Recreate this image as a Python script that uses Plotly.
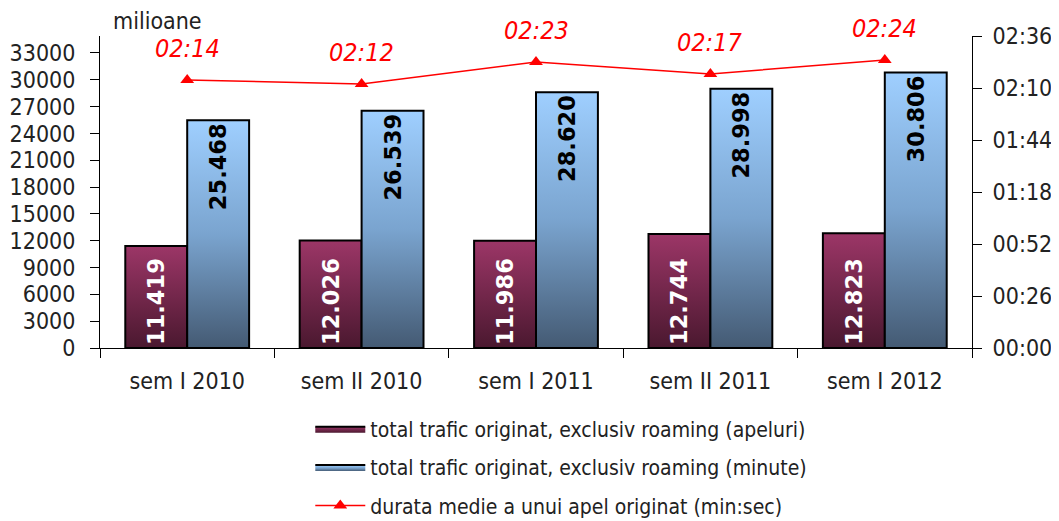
import plotly.graph_objects as go

# categories and values
categories = ["sem I 2010", "sem II 2010", "sem I 2011", "sem II 2011", "sem I 2012"]
apeluri = [11419, 12026, 11986, 12744, 12823]          # milioane
minute = [25468, 26539, 28620, 28998, 30806]           # milioane
durata_sec = [134, 132, 143, 137, 144]                 # seconds
durata_labels = ["02:14", "02:12", "02:23", "02:17", "02:24"]

y_ticks = [0, 3000, 6000, 9000, 12000, 15000, 18000, 21000, 24000, 27000, 30000, 33000]
y2_ticks = [0, 26, 52, 78, 104, 130, 156]
y2_labels = ["00:00", "00:26", "00:52", "01:18", "01:44", "02:10", "02:36"]

name_apeluri = "total trafic originat, exclusiv roaming (apeluri)"
name_minute = "total trafic originat, exclusiv roaming (minute)"
name_durata = "durata medie a unui apel originat (min:sec)"

FONT = "DejaVu Sans Condensed, DejaVu Sans, sans-serif"
BAR_W = 0.355
Y_MAX = 34900

purple_scale = [[0, "#4a182f"], [1, "#9c3667"]]
blue_scale = [[0, "#445a73"], [0.5, "#7aa4cf"], [1, "#9fcfff"]]

pos = list(range(len(categories)))
fig = go.Figure()

# gradient bars drawn as filled shapes (plotly bars have no gradient fill)
for series, name, scale, off, grp in [
    (apeluri, name_apeluri, purple_scale, -BAR_W, "a"),
    (minute, name_minute, blue_scale, 0.0, "b"),
]:
    for i, v in zip(pos, series):
        x0, x1 = i + off, i + off + BAR_W
        fig.add_trace(go.Scatter(
            x=[x0, x0, x1, x1, x0], y=[0, v, v, 0, 0],
            mode="lines", fill="toself",
            fillgradient=dict(type="vertical", colorscale=scale),
            line=dict(color="black", width=2),
            name=name, legendgroup=grp, showlegend=(i == 0),
            hoverinfo="skip",
        ))

# transparent bars on top only for the value labels
fig.add_trace(go.Bar(
    x=pos, y=apeluri, width=BAR_W, offset=-BAR_W, yaxis="y3",
    marker=dict(color="rgba(0,0,0,0)", line=dict(width=0)),
    texttemplate="%{y:,}", textposition="inside", insidetextanchor="start",
    textangle=-90, constraintext="none",
    textfont=dict(family="DejaVu Sans", size=22.5, color="white", weight="bold"),
    showlegend=False,
))
fig.add_trace(go.Bar(
    x=pos, y=minute, width=BAR_W, offset=0, yaxis="y3",
    marker=dict(color="rgba(0,0,0,0)", line=dict(width=0)),
    texttemplate="%{y:,}", textposition="inside", insidetextanchor="end",
    textangle=-90, constraintext="none",
    textfont=dict(family="DejaVu Sans", size=22.5, color="black", weight="bold"),
    showlegend=False,
))

fig.add_trace(go.Scatter(
    x=pos, y=durata_sec, yaxis="y2", mode="lines+markers",
    line=dict(color="#ff0000", width=1.5),
    marker=dict(symbol="triangle-up", size=12, color="#ff0000"),
    name=name_durata, legendgroup="c",
))

for i, sec, lab in zip(pos, durata_sec, durata_labels):
    fig.add_annotation(x=i, y=sec, yref="y2", text=lab, showarrow=False,
                       yshift=32, font=dict(family=FONT, size=25, color="#ff0000",
                                            style="italic"))

fig.add_annotation(x=0.013, y=1.048, xref="paper", yref="paper", text="milioane",
                   showarrow=False, xanchor="left", yanchor="middle",
                   font=dict(family=FONT, size=23, color="#222222"))

# page body adds an 8px offset, so the figure is 8px smaller than the window
fig.update_layout(
    width=1051, height=513,
    margin=dict(l=92, r=87, t=28, b=173, autoexpand=False),
    paper_bgcolor="white", plot_bgcolor="white",
    font=dict(family=FONT, size=23, color="#222222"),
    separators=",.",
    barmode="overlay",
    xaxis=dict(range=[-0.5, 4.5], tickvals=pos, ticktext=categories,
               ticks="", ticklabelstandoff=12, showline=True, linecolor="black",
               linewidth=1, showgrid=False, zeroline=False, automargin=False,
               minor=dict(tickmode="linear", tick0=-0.5, dtick=1, ticks="outside",
                          ticklen=9, tickcolor="black", showgrid=False)),
    yaxis=dict(range=[0, Y_MAX], tickvals=y_ticks, ticktext=[str(v) for v in y_ticks],
               ticks="outside", ticklen=9, automargin=False,
               tickcolor="black", showline=True, linecolor="black", linewidth=1,
               showgrid=False, zeroline=False, ticklabelstandoff=10),
    yaxis2=dict(range=[0, 156], overlaying="y", side="right", tickvals=y2_ticks,
                ticktext=y2_labels, ticks="outside", ticklen=9, tickcolor="black",
                showline=True, linecolor="black", linewidth=1, showgrid=False,
                zeroline=False, ticklabelstandoff=6, automargin=False),
    yaxis3=dict(range=[0, Y_MAX], overlaying="y", visible=False, automargin=False),
    legend=dict(x=0.529, xanchor="center", y=0.219, yref="container", yanchor="top",
                orientation="v", font=dict(family=FONT, size=21, color="#222222"),
                tracegroupgap=8, itemwidth=50, bgcolor="rgba(0,0,0,0)"),
)

fig.write_html("out.html")
